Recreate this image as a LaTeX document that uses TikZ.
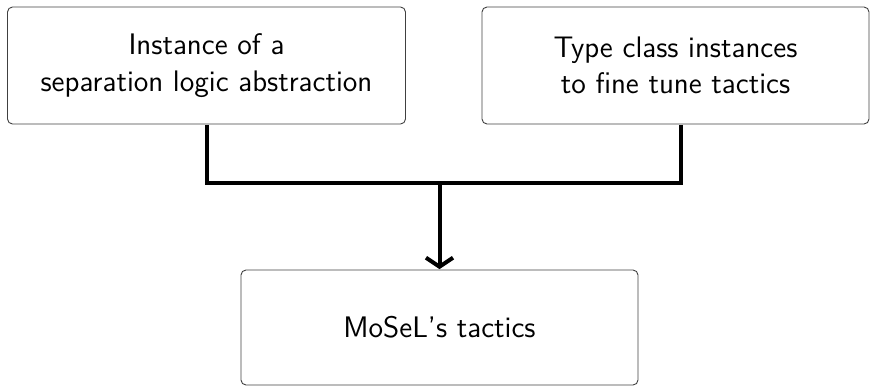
\documentclass[tikz,border=0pt]{standalone}
\usetikzlibrary{arrows.meta}
\begin{document}
\begin{tikzpicture}[x=1pt,y=-1pt,
  box/.style={draw=black!75,line width=0.9pt,rounded corners=5pt,align=center,
    scale=2,transform shape,
    font=\sffamily\fontsize{14.85}{18.3}\selectfont,inner sep=0pt},
  link/.style={line width=4pt}]
  \useasboundingbox (0,0) rectangle (876,386);
  \node[box,minimum width=199pt,minimum height=58.5pt] (left) at (206.5,65.5)
    {Instance of a\\separation logic abstraction};
  \node[box,minimum width=193.5pt,minimum height=58.5pt] (right) at (675.5,65.5)
    {Type class instances\\to fine tune tactics};
  \node[box,minimum width=198.5pt,minimum height=57.5pt] (bottom) at (439.5,327.5)
    {MoSeL's tactics};
  \coordinate (j) at (439.5,183);
  \draw[link] (left.south) |- (j);
  \draw[link] ([xshift=5.5pt]right.south) |- (j);
  \draw[link,-{Straight Barb[length=9pt,width=27pt]}] (j) -- (bottom.north);
\end{tikzpicture}
\end{document}
